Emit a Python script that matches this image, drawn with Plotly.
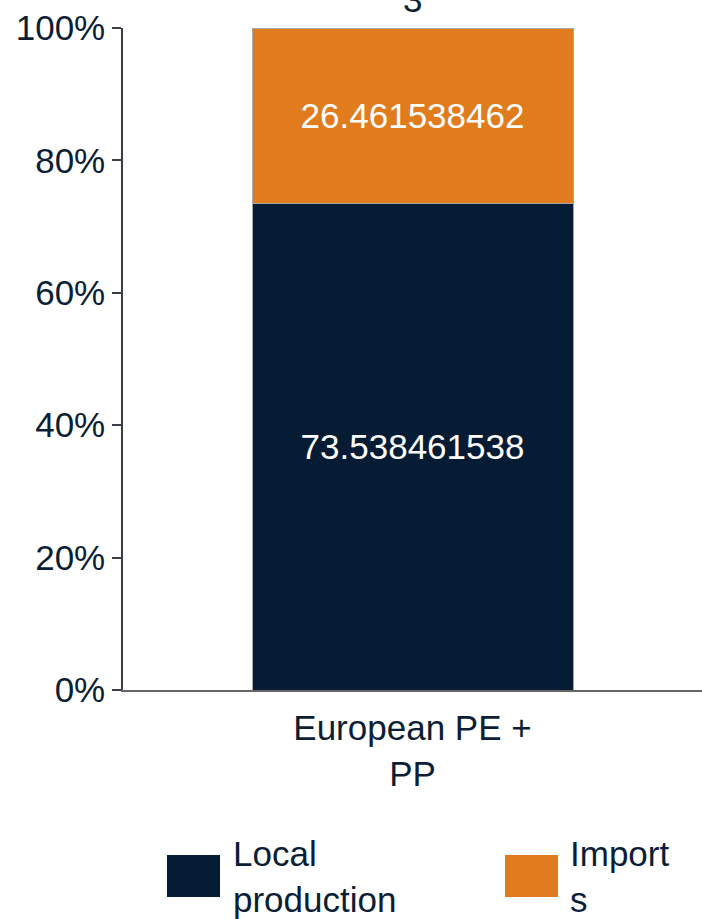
import plotly.graph_objects as go

categories = ["European PE +<br>PP"]
local_production = [73.538461538]
imports = [26.461538462]
series_names = ["Local<br>production", "Import<br>s"]
y_ticks = [0, 20, 40, 60, 80, 100]
y_tick_labels = ["0%", "20%", "40%", "60%", "80%", "100%"]
top_label = "3"

DARK = "#061b34"
ORANGE = "#e07c1e"
TEXT = "#0b1e35"
FONT = "Liberation Sans, Arial, sans-serif"
FS = 35

W, H = 702, 919
L, R, T, B = 123, 0, 28, 229
PW, PH = W - L - R, H - T - B

fig = go.Figure()
fig.add_trace(go.Bar(
    x=categories, y=local_production, name="Local production",
    marker=dict(color=DARK, line=dict(color="#a8a8a8", width=1)),
    width=0.5544,
    text=[f"{v:.9f}" for v in local_production],
    textposition="inside", insidetextanchor="middle",
    textfont=dict(color="white", size=FS, family=FONT),
    showlegend=False,
))
fig.add_trace(go.Bar(
    x=categories, y=imports, name="Imports",
    marker=dict(color=ORANGE, line=dict(color="#a8a8a8", width=1)),
    width=0.5544,
    text=[f"{v:.9f}" for v in imports],
    textposition="inside", insidetextanchor="middle",
    textfont=dict(color="white", size=FS, family=FONT),
    showlegend=False,
))

def px_x(p):
    return (p - L) / PW

def px_y(p):
    return (H - B - p) / PH

shapes = []
annotations = []
legend_items = [(167, 220, DARK, series_names[0], 231), (505, 558, ORANGE, series_names[1], 568)]
for x0, x1, col, label, tx in legend_items:
    shapes.append(dict(type="rect", xref="paper", yref="paper",
                       x0=px_x(x0), x1=px_x(x1), y0=px_y(897), y1=px_y(855),
                       fillcolor=col, line=dict(width=0)))
    annotations.append(dict(xref="paper", yref="paper", x=px_x(tx), y=px_y(876),
                            xanchor="left", yanchor="middle", text=label, showarrow=False,
                            align="left",
                            font=dict(size=FS, color=TEXT, family=FONT)))

annotations.append(dict(xref="paper", yref="paper", x=px_x(412), y=px_y(21),
                        xanchor="center", yanchor="bottom", text=top_label, showarrow=False,
                        font=dict(size=FS, color=TEXT, family=FONT)))

fig.update_layout(
    width=W, height=H,
    margin=dict(l=L, r=R, t=T, b=B, pad=0),
    barmode="stack",
    plot_bgcolor="white", paper_bgcolor="white",
    font=dict(family=FONT, size=FS, color=TEXT),
    shapes=shapes, annotations=annotations,
    showlegend=False,
    xaxis=dict(range=[-0.5, 0.5], showline=True, linecolor="#666666", linewidth=2,
               ticks="", showgrid=False, zeroline=False,
               tickfont=dict(size=FS, color=TEXT, family=FONT), ticklabelstandoff=6),
    yaxis=dict(range=[0, 100], tickvals=y_ticks, ticktext=y_tick_labels,
               showline=True, linecolor="#3a3f45", linewidth=1.5,
               ticks="outside", ticklen=9, tickcolor="#3a3f45", tickwidth=1.5,
               showgrid=False, zeroline=False,
               tickfont=dict(size=FS, color=TEXT, family=FONT)),
)

fig.write_html("out.html", config={"displayModeBar": False},
               post_script="document.body.style.margin='0';document.body.style.overflow='hidden';")
